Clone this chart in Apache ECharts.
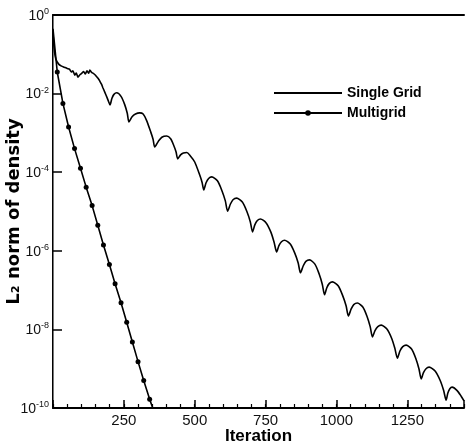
<!DOCTYPE html>
<html><head><meta charset="utf-8">
<script src="https://cdn.jsdelivr.net/npm/echarts@6/dist/echarts.min.js"></script>
<style>html,body{margin:0;padding:0;background:#fff}#c{width:466px;height:448px}</style>
</head><body><div id="c"></div>
<script>
// Single Grid: iteration and log10 of L2 norm
const singleIter = [0,4,10,20,30,40,50,58,65,70,77,82,88,95,102,108,114,120,126,130,136,141,148,155,160,165,171,176,183,190,196,201,
 208,215,225,240,253,262,268,
 279,291,306,318,330,345,353,359,
 372,384,401,415,426,434,440,
 450,460,472,484,500,518,526,532,
 540,549,560,580,596,608,616,
 626,635,648,668,684,696,704,
 712,721,732,752,769,780,789,
 797,806,817,837,853,865,873,
 883,892,905,924,939,950,958,
 966,975,986,1006,1022,1034,1042,
 1052,1061,1074,1093,1108,1119,1127,
 1136,1146,1158,1178,1195,1206,1215,
 1224,1234,1246,1265,1280,1291,1299,
 1307,1316,1327,1348,1366,1378,1387,
 1393,1400,1408,1425,1440,1450];
const singleExp = [-0.45,-0.85,-1.12,-1.25,-1.30,-1.33,-1.36,-1.38,-1.45,-1.42,-1.53,-1.48,-1.58,-1.52,-1.48,-1.44,-1.50,-1.42,-1.48,-1.40,-1.46,-1.48,-1.52,-1.58,-1.62,-1.68,-1.76,-1.85,-1.97,-2.09,-2.20,-2.29,
 -2.12,-2.02,-1.98,-2.07,-2.28,-2.50,-2.72,
 -2.59,-2.52,-2.49,-2.52,-2.68,-2.98,-3.16,-3.36,
 -3.21,-3.11,-3.08,-3.15,-3.32,-3.48,-3.66,
 -3.56,-3.51,-3.50,-3.58,-3.74,-4.08,-4.26,-4.45,
 -4.27,-4.16,-4.12,-4.22,-4.47,-4.73,-4.99,
 -4.81,-4.70,-4.66,-4.76,-5.00,-5.26,-5.52,
 -5.34,-5.23,-5.19,-5.29,-5.53,-5.78,-6.03,
 -5.87,-5.77,-5.73,-5.83,-6.06,-6.31,-6.56,
 -6.38,-6.27,-6.23,-6.34,-6.59,-6.85,-7.12,
 -6.94,-6.83,-6.79,-6.89,-7.14,-7.40,-7.66,
 -7.48,-7.37,-7.33,-7.43,-7.67,-7.93,-8.19,
 -8.03,-7.93,-7.89,-7.99,-8.23,-8.48,-8.73,
 -8.55,-8.44,-8.40,-8.50,-8.74,-9.00,-9.26,
 -9.10,-9.00,-8.96,-9.06,-9.30,-9.55,-9.80,
 -9.62,-9.51,-9.47,-9.55,-9.70,-9.82];
// Multigrid
const multiIter = [0,15,35,55,76,97,117,138,158,178,199,219,240,260,280,300,320,341,352];
const multiExp = [-0.35,-1.45,-2.25,-2.85,-3.40,-3.90,-4.38,-4.85,-5.35,-5.85,-6.35,-6.84,-7.32,-7.82,-8.32,-8.82,-9.30,-9.78,-10.0];
const xTickLabels = [250,500,750,1000,1250];
const yLabelExps = [0,-2,-4,-6,-8,-10];
const seriesNames = ['Single Grid','Multigrid'];

const singleData = singleIter.map((x,i)=>[x, Math.pow(10, singleExp[i])]);
const multiData = multiIter.map((x,i)=>{
  const d = {value:[x, Math.pow(10, multiExp[i])]};
  if (i===0 || i===multiIter.length-1) d.symbol='none';
  return d;
});

const FONT = 'Liberation Sans';
const chart = echarts.init(document.getElementById('c'));
chart.setOption({
  animation:false,
  backgroundColor:'#fff',
  grid:{left:53, top:15, right:2, bottom:40, containLabel:false, outerBoundsMode:'none'},
  legend:{
    orient:'vertical', left:273, top:86, padding:0, itemWidth:68, itemHeight:7, itemGap:6,
    data:[{name:seriesNames[0], itemStyle:{opacity:0}}, {name:seriesNames[1]}],
    textStyle:{fontFamily:FONT, fontWeight:'bold', fontSize:14, color:'#000', lineHeight:14}
  },
  xAxis:[
    {type:'value', position:'bottom', min:0, max:1450, interval:250,
     name:'Iteration', nameLocation:'middle', nameGap:20, nameMoveOverlap:false,
     nameTextStyle:{fontFamily:FONT, fontWeight:'bold', fontSize:17, color:'#000'},
     axisLine:{lineStyle:{color:'#000', width:2}},
     axisTick:{inside:true, length:8, lineStyle:{color:'#000', width:1.5}},
     axisLabel:{formatter:v=> xTickLabels.includes(v) ? String(v) : '', margin:5,
       fontFamily:FONT, fontSize:15, color:'#111'},
     splitLine:{show:false}},
    {type:'value', position:'bottom', min:0, max:1450, interval:50,
     axisLine:{show:false},
     axisTick:{inside:true, length:4, lineStyle:{color:'#000', width:1.2}},
     axisLabel:{show:false}, splitLine:{show:false}},
    {type:'value', position:'top', min:0, max:1450,
     axisLine:{show:true, lineStyle:{color:'#000', width:2}},
     axisTick:{show:false}, axisLabel:{show:false}, splitLine:{show:false}}
  ],
  yAxis:[
    {type:'log', logBase:10, min:1e-10, max:1, interval:2,
     name:'L\u2082 norm of density', nameLocation:'middle', nameGap:30, nameRotate:90, nameMoveOverlap:false,
     nameTextStyle:{fontFamily:'DejaVu Sans', fontWeight:'bold', fontSize:18, color:'#000'},
     axisLine:{lineStyle:{color:'#000', width:2}},
     axisTick:{inside:true, length:9, lineStyle:{color:'#000', width:1.5}},
     axisLabel:{margin:4,
       formatter:v=>{ const e=Math.round(Math.log10(v)); return yLabelExps.includes(e) ? '{b|10}{s|'+e+'}' : ''; },
       rich:{b:{fontFamily:FONT, fontSize:14, color:'#111', lineHeight:16, verticalAlign:'bottom'},
             s:{fontFamily:FONT, fontSize:9, color:'#111', lineHeight:16, verticalAlign:'top'}}},
     splitLine:{show:false}},
    {type:'value', position:'right', min:0, max:1,
     axisLine:{show:true, lineStyle:{color:'#777', width:1}},
     axisTick:{show:false}, axisLabel:{show:false}, splitLine:{show:false}}
  ],
  series:[
    {name:seriesNames[0], type:'line', data:singleData, symbol:'none', showSymbol:false, smooth:0.25,
     lineStyle:{color:'#000', width:1.6}, itemStyle:{color:'#000'}, clip:true},
    {name:seriesNames[1], type:'line', data:multiData, symbol:'circle', symbolSize:5,
     lineStyle:{color:'#000', width:1.6}, itemStyle:{color:'#000'}, clip:true}
  ]
});
</script></body></html>
